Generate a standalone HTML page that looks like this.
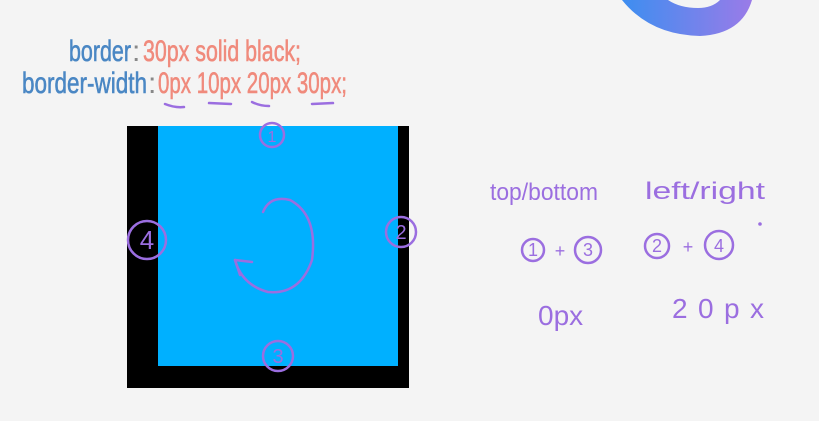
<!DOCTYPE html>
<html><head><meta charset="utf-8"><style>
html,body{margin:0;padding:0;background:#f4f4f4;}
svg{display:block}
</style></head><body>
<svg width="819" height="421" viewBox="0 0 819 421" font-family="Liberation Sans, sans-serif">
<defs><linearGradient id="lg" x1="0" x2="1"><stop offset="0" stop-color="#3d8ef0"/><stop offset="1" stop-color="#9a7be8"/></linearGradient></defs>
<path d="M622 0 Q650 35 700 36 Q742 34 752 0 L720 0 Q712 8 698 8 Q680 8 668 0 Z" fill="url(#lg)"/>
<g font-size="30" stroke-width="0.6">
<text x="69" y="61" fill="#4a87c4" stroke="#4a87c4" textLength="62" lengthAdjust="spacingAndGlyphs">border</text>
<text x="132" y="61" fill="#888">:</text>
<text x="143" y="61" fill="#f08a7c" stroke="#f08a7c" textLength="158" lengthAdjust="spacingAndGlyphs">30px solid black;</text>
</g>
<g font-size="30" stroke-width="0.6">
<text x="22" y="93" fill="#4a87c4" stroke="#4a87c4" textLength="125" lengthAdjust="spacingAndGlyphs">border-width</text>
<text x="148" y="93" fill="#888">:</text>
<text x="158" y="93" fill="#f08a7c" stroke="#f08a7c" textLength="189" lengthAdjust="spacingAndGlyphs">0px 10px 20px 30px;</text>
</g>
<g stroke="#9b6ee0" stroke-width="2.5" fill="none" stroke-linecap="round">
<path d="M165 104 Q175 108 184 107"/><path d="M209 103 L231 104"/><path d="M252 102 Q260 106 269 106"/><path d="M312 104 L333 103"/>
</g>
<g>
<rect x="127" y="126" width="282" height="262" fill="#000"/>
<rect x="158" y="126" width="240" height="240" fill="#00b0ff"/>
</g>
<g stroke="#9b6ee0" stroke-width="2.5" fill="none" stroke-linecap="round">
<circle cx="272" cy="135" r="12"/><circle cx="401" cy="232" r="15"/><circle cx="278" cy="356" r="15"/><circle cx="147" cy="240" r="19"/>
<path d="M263 212 Q270 195 290 200 Q318 215 312 260 Q300 295 268 292 Q242 285 235 260"/>
<path d="M235 260 L240 275 M235 260 L252 262"/>
</g>
<g fill="#9b6ee0" font-size="20" text-anchor="middle">
<text x="272" y="142" font-size="16">1</text><text x="401" y="239">2</text><text x="278" y="363">3</text><text x="147" y="249" font-size="26">4</text>
</g>
<g fill="#9b6ee0" font-size="24">
<text x="490" y="200" textLength="108" lengthAdjust="spacingAndGlyphs">top/bottom</text>
<text x="645" y="199" textLength="120" lengthAdjust="spacingAndGlyphs">left/right</text>
<text x="538" y="325" font-size="28">0px</text>
<text x="672" y="318" font-size="28" textLength="92" lengthAdjust="spacing">20px</text>
</g>
<g stroke="#9b6ee0" stroke-width="2.5" fill="none">
<circle cx="533" cy="250" r="11"/><circle cx="588" cy="250" r="13"/><circle cx="657" cy="246" r="12"/><circle cx="719" cy="245" r="14"/>
</g>
<g fill="#9b6ee0" font-size="18" text-anchor="middle">
<text x="533" y="256">1</text><text x="560" y="257">+</text><text x="588" y="256">3</text>
<text x="657" y="252">2</text><text x="688" y="253">+</text><text x="719" y="252">4</text>
<circle cx="760" cy="224" r="1.8"/>
</g>
</svg>
</body></html>
